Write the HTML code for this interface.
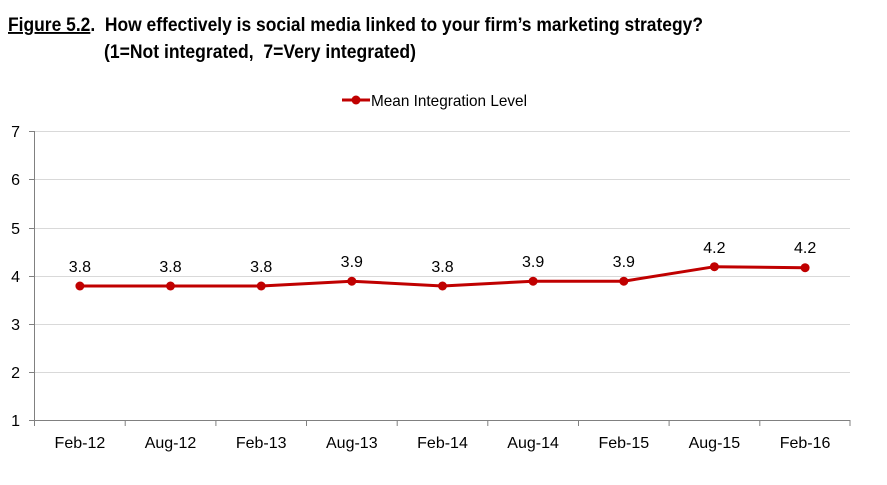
<!DOCTYPE html>
<html><head><style>body{margin:0;background:#fff}svg{display:block}</style></head><body>
<svg width="887" height="485" xmlns="http://www.w3.org/2000/svg" font-family="Liberation Sans, Arial, sans-serif">
<text x="8" y="31" font-size="19" font-weight="bold" fill="#000" textLength="695" lengthAdjust="spacingAndGlyphs" xml:space="preserve"><tspan text-decoration="underline">Figure 5.2</tspan>.  How effectively is social media linked to your firm’s marketing strategy?</text>
<text x="104" y="58" font-size="19" font-weight="bold" fill="#000" textLength="312" lengthAdjust="spacingAndGlyphs" xml:space="preserve">(1=Not integrated,  7=Very integrated)</text>
<line x1="342" y1="100" x2="370" y2="100" stroke="#c00000" stroke-width="3"/>
<circle cx="356" cy="100" r="4.5" fill="#c00000"/>
<text x="371" y="106" font-size="16" fill="#000" textLength="156" lengthAdjust="spacingAndGlyphs">Mean Integration Level</text>
<g stroke="#d9d9d9" stroke-width="1">
<line x1="34.5" y1="131.5" x2="850" y2="131.5"/>
<line x1="34.5" y1="179.5" x2="850" y2="179.5"/>
<line x1="34.5" y1="228.5" x2="850" y2="228.5"/>
<line x1="34.5" y1="276.5" x2="850" y2="276.5"/>
<line x1="34.5" y1="324.5" x2="850" y2="324.5"/>
<line x1="34.5" y1="372.5" x2="850" y2="372.5"/>
</g>
<g stroke="#808080" stroke-width="1">
<line x1="34.5" y1="131" x2="34.5" y2="421"/>
<line x1="34.5" y1="420.5" x2="850" y2="420.5"/>
<line x1="29" y1="131.5" x2="34.5" y2="131.5"/><line x1="29" y1="179.5" x2="34.5" y2="179.5"/><line x1="29" y1="228.5" x2="34.5" y2="228.5"/><line x1="29" y1="276.5" x2="34.5" y2="276.5"/><line x1="29" y1="324.5" x2="34.5" y2="324.5"/><line x1="29" y1="372.5" x2="34.5" y2="372.5"/><line x1="29" y1="420.5" x2="34.5" y2="420.5"/>
<line x1="125.2" y1="420" x2="125.2" y2="426"/><line x1="215.9" y1="420" x2="215.9" y2="426"/><line x1="306.5" y1="420" x2="306.5" y2="426"/><line x1="397.2" y1="420" x2="397.2" y2="426"/><line x1="487.8" y1="420" x2="487.8" y2="426"/><line x1="578.5" y1="420" x2="578.5" y2="426"/><line x1="669.1" y1="420" x2="669.1" y2="426"/><line x1="759.8" y1="420" x2="759.8" y2="426"/><line x1="850" y1="420" x2="850" y2="426"/><line x1="34.5" y1="420" x2="34.5" y2="426"/>
</g>
<g font-size="16" fill="#000" text-anchor="end">
<text x="20" y="137">7</text><text x="20" y="185">6</text><text x="20" y="234">5</text><text x="20" y="282">4</text><text x="20" y="330">3</text><text x="20" y="378">2</text><text x="20" y="426">1</text>
</g>
<g font-size="16" fill="#000" text-anchor="middle">
<text x="79.9" y="448">Feb-12</text><text x="170.5" y="448">Aug-12</text><text x="261.2" y="448">Feb-13</text><text x="351.8" y="448">Aug-13</text><text x="442.5" y="448">Feb-14</text><text x="533.1" y="448">Aug-14</text><text x="623.8" y="448">Feb-15</text><text x="714.4" y="448">Aug-15</text><text x="805.1" y="448">Feb-16</text>
</g>
<polyline fill="none" stroke="#c00000" stroke-width="3" points="79.9,286 170.5,286 261.2,286 351.8,281.2 442.5,286 533.1,281.2 623.8,281.2 714.4,266.7 805.1,267.7"/>
<g fill="#c00000">
<circle cx="79.9" cy="286" r="4.5"/><circle cx="170.5" cy="286" r="4.5"/><circle cx="261.2" cy="286" r="4.5"/><circle cx="351.8" cy="281.2" r="4.5"/><circle cx="442.5" cy="286" r="4.5"/><circle cx="533.1" cy="281.2" r="4.5"/><circle cx="623.8" cy="281.2" r="4.5"/><circle cx="714.4" cy="266.7" r="4.5"/><circle cx="805.1" cy="267.7" r="4.5"/>
</g>
<g font-size="16" fill="#000" text-anchor="middle">
<text x="79.9" y="272">3.8</text><text x="170.5" y="272">3.8</text><text x="261.2" y="272">3.8</text><text x="351.8" y="267">3.9</text><text x="442.5" y="272">3.8</text><text x="533.1" y="267">3.9</text><text x="623.8" y="267">3.9</text><text x="714.4" y="253">4.2</text><text x="805.1" y="253">4.2</text>
</g>
</svg>
</body></html>
